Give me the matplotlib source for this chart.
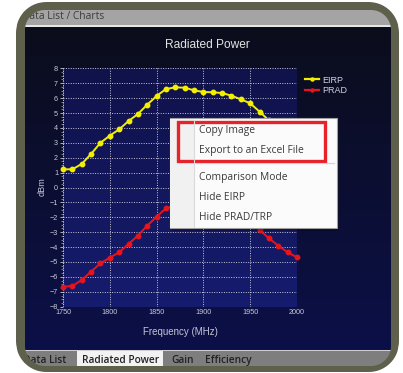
import numpy as np
import matplotlib
matplotlib.use("Agg")
import matplotlib.pyplot as plt
from matplotlib.patches import Rectangle, PathPatch
from matplotlib.path import Path
from matplotlib.lines import Line2D

# ---------------- data ----------------
freq_mhz = [1750, 1760, 1770, 1780, 1790, 1800, 1810, 1820, 1830, 1840,
            1850, 1860, 1870, 1880, 1890, 1900, 1910, 1920, 1930, 1940,
            1950, 1960, 1970, 1980, 1990, 2000]
eirp_dbm = [1.22, 1.22, 1.58, 2.25, 3.00, 3.48, 3.90, 4.46, 4.93, 5.56,
            6.14, 6.61, 6.72, 6.70, 6.52, 6.41, 6.39, 6.34, 6.16, 5.92,
            5.65, 5.09, 4.50, 4.00, 3.55, 3.20]
prad_dbm = [-6.66, -6.61, -6.21, -5.65, -5.09, -4.71, -4.35, -3.79, -3.23, -2.56,
            -1.96, -1.40, -1.20, -1.20, -1.40, -1.50, -1.50, -1.60, -1.75, -2.00,
            -2.30, -2.85, -3.41, -3.90, -4.35, -4.69]
series_names = ["EIRP", "PRAD"]
x_ticks = [1750, 1800, 1850, 1900, 1950, 2000]
y_ticks = list(range(-8, 9))
menu_items = ["Copy Image", "Export to an Excel File", "Comparison Mode",
              "Hide EIRP", "Hide PRAD/TRP"]
tab_names = ["Data List", "Radiated Power", "Gain", "Efficiency"]

W, H = 403, 373
fig = plt.figure(figsize=(W / 100, H / 100), dpi=100)
fig.patch.set_facecolor("white")

# ---------------- background window ----------------
bg = fig.add_axes([0, 0, 1, 1], zorder=0)
bg.set_xlim(0, W)
bg.set_ylim(H, 0)
bg.axis("off")


def rr_pts(x0, y0, w, h, r, n=16, reverse=False):
    pts = []
    corners = [(x0 + w - r, y0 + r, -90, 0), (x0 + w - r, y0 + h - r, 0, 90),
               (x0 + r, y0 + h - r, 90, 180), (x0 + r, y0 + r, 180, 270)]
    for cx, cy, a0, a1 in corners:
        for a in np.linspace(np.radians(a0), np.radians(a1), n):
            pts.append((cx + r * np.cos(a), cy + r * np.sin(a)))
    pts = np.array(pts)
    if reverse:
        pts = pts[::-1]
    return pts


def poly_path(list_of_pts):
    verts, codes = [], []
    for p in list_of_pts:
        verts.extend(list(p) + [p[0]])
        codes.extend([Path.MOVETO] + [Path.LINETO] * (len(p) - 1) + [Path.CLOSEPOLY])
    return Path(np.array(verts), codes)


def vgrad(c1, c2, n=256):
    a = np.array(matplotlib.colors.to_rgb(c1))
    b = np.array(matplotlib.colors.to_rgb(c2))
    t = np.linspace(0, 1, n)[:, None]
    return (a + (b - a) * t)[:, None, :]


bg.imshow(vgrad("#0b0d1c", "#0c1048"), extent=[20, 396, 350, 26],
          origin="upper", aspect="auto", zorder=1)
bg.add_patch(Rectangle((0, 0), W, 24.5, facecolor="#a4a4a4", edgecolor="none", zorder=2))
bg.add_patch(Rectangle((0, 24.5), W, 2, facecolor="#e6e6e6", edgecolor="none", zorder=2))
bg.text(21.5, 16.5, "Data List / Charts", fontsize=7.4, family="Open Sans",
        color="#3c3c3c", va="center", ha="left", zorder=3)

bg.add_patch(Rectangle((0, 350), W, 30, facecolor="#7e7e7e", edgecolor="none", zorder=2))
bg.add_patch(Rectangle((0, 349.5), W, 1.5, facecolor="#cfcfcf", edgecolor="none", zorder=2))
bg.add_patch(Rectangle((77, 350.5), 86, 20, facecolor="#f2f2f2", edgecolor="none", zorder=2))
tab_x = [23, 82, 171, 205]
for name, tx in zip(tab_names, tab_x):
    bg.text(tx, 360.5, name, fontsize=7.3, family="Open Sans", fontweight="semibold",
            color="#222222", va="center", ha="left", zorder=3)

# frame ring and white outside mask on top of window content
outer_pts = rr_pts(16, 2, 383, 370, 30)
inner_pts = rr_pts(25, 10, 366, 356, 20, reverse=True)
bg.add_patch(PathPatch(poly_path([outer_pts, inner_pts]), facecolor="#5f604c",
                       edgecolor="none", zorder=5))
full = np.array([(-5, -5), (W + 5, -5), (W + 5, H + 5), (-5, H + 5)])
bg.add_patch(PathPatch(poly_path([full, outer_pts[::-1]]), facecolor="white",
                       edgecolor="none", zorder=5))

bg.text(207.5, 44.5, "Radiated Power", fontsize=8.6, family="Liberation Sans",
        color="#e2e2e2", ha="center", va="center", zorder=3)
bg.text(42, 187, "dBm", fontsize=6.6, family="Liberation Sans", color="#c4c6d6",
        rotation=90, ha="center", va="center", zorder=3)
bg.text(180, 332, "Frequency (MHz)", fontsize=7.0, family="Liberation Sans",
        color="#c4c6d6", ha="center", va="center", zorder=3)

# ---------------- chart ----------------
left, right, top, bottom = 63, 297, 68.3, 306.7
ax = fig.add_axes([left / W, 1 - bottom / H, (right - left) / W, (bottom - top) / H], zorder=1)
ax.imshow(vgrad("#10124a", "#161c6e"), extent=[1750, 2000, -8, 8],
          origin="upper", aspect="auto", zorder=0)
ax.set_xlim(1750, 2000)
ax.set_ylim(-8, 8)
for s in ax.spines.values():
    s.set_visible(False)
ax.set_xticks(x_ticks)
ax.set_yticks(y_ticks)
ax.set_yticks(np.arange(-8, 8.01, 0.25), minor=True)
ax.grid(True, which="major", color="#c8c8d8", linestyle=(0, (1, 1.5)), linewidth=0.7)
ax.tick_params(axis="both", which="major", colors="#c8c8d8", labelsize=5.2,
               length=2, width=0.6, pad=1.5)
ax.tick_params(axis="y", which="minor", colors="#a8a8c0", length=1.2, width=0.5)
ax.tick_params(axis="x", which="major", length=0, pad=2)
for lab in ax.get_xticklabels() + ax.get_yticklabels():
    lab.set_family("Liberation Sans")
    lab.set_color("#c8c8d8")
ax.axvline(1750, color="#c8c8d8", linestyle=(0, (1, 1.5)), linewidth=0.7)
ax.plot(freq_mhz, eirp_dbm, color="#f2ef00", lw=1.4, marker="o", ms=3.2,
        zorder=3, clip_on=False)
ax.plot(freq_mhz, prad_dbm, color="#e8141c", lw=1.4, marker="o", ms=3.2,
        zorder=3, clip_on=False)

handles = [Line2D([0], [0], color="#f2ef00", lw=1.6, marker="o", ms=2.2),
           Line2D([0], [0], color="#e8141c", lw=1.6, marker="o", ms=2.2)]
leg = fig.legend(handles, series_names, loc="upper left",
                 bbox_to_anchor=(300 / W, 1 - 71 / H), frameon=False,
                 handlelength=1.6, handletextpad=0.35, labelspacing=0.15,
                 prop={"family": "Liberation Sans", "size": 6.5}, borderpad=0)
for txt in leg.get_texts():
    txt.set_color("#d0d2e0")

# ---------------- context menu ----------------
ov = fig.add_axes([0, 0, 1, 1], zorder=5)
ov.set_xlim(0, W)
ov.set_ylim(H, 0)
ov.axis("off")
ov.patch.set_alpha(0)
ov.add_patch(Rectangle((171.5, 120.5), 167, 110, facecolor="#000000", alpha=0.25,
                       edgecolor="none"))
ov.add_patch(Rectangle((169.5, 118.3), 167, 109.7, facecolor="#fbfbfb",
                       edgecolor="#a0a0a0", linewidth=0.8))
ov.add_patch(Rectangle((170, 119), 23.5, 108.5, facecolor="#f1f1f1", edgecolor="none"))
ov.plot([193.5, 193.5], [120, 227], color="#dadada", lw=0.8)
ov.plot([195, 334], [163, 163], color="#d4d4d4", lw=0.8)
ov.add_patch(Rectangle((177.5, 122.3), 147.5, 38.7, facecolor="none",
                       edgecolor="#e8222a", linewidth=2.4))
item_y = [130.7, 150.2, 177.7, 197.5, 217.2]
for txt, iy in zip(menu_items, item_y):
    ov.text(199, iy, txt, fontsize=7.4, family="Open Sans", color="#3a3a3a",
            ha="left", va="center")

fig.savefig("out.png", dpi=100, facecolor="white")
